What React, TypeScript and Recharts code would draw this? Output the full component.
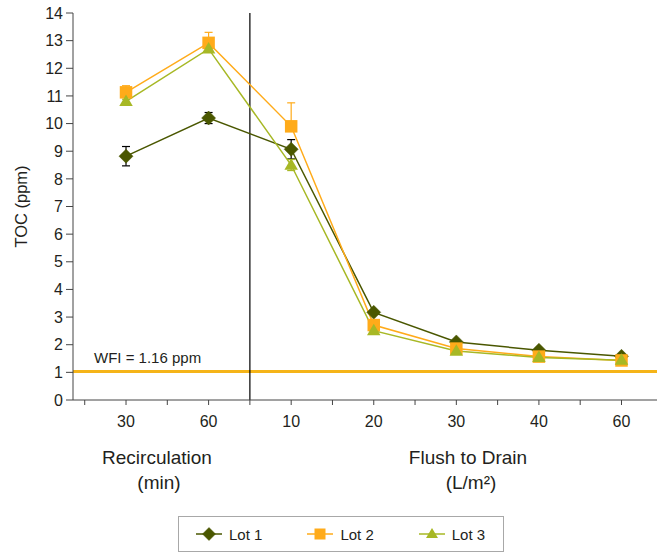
import React from 'react';
import { LineChart, Line, XAxis, YAxis, ErrorBar, ReferenceLine, Legend } from 'recharts';

const categories = ['30', '60', '10', '20', '30', '40', '60'];
const lot1 = [8.82, 10.2, 9.07, 3.17, 2.1, 1.8, 1.58];
const lot1Err = [0.35, 0.2, 0.35, 0.06, 0.05, 0.04, 0.04];
const lot2 = [11.13, 12.92, 9.9, 2.71, 1.86, 1.57, 1.43];
const lot2ErrUp = [0.24, 0.38, 0.85, 0.06, 0.05, 0.04, 0.04];
const lot3 = [10.8, 12.7, 8.5, 2.51, 1.77, 1.54, 1.44];
const lot3Err = [0.08, 0.08, 0.2, 0.05, 0.04, 0.04, 0.04];
const yTicks = [0, 1, 2, 3, 4, 5, 6, 7, 8, 9, 10, 11, 12, 13, 14];
const xTicks = [-0.5, 0, 0.5, 1, 1.5, 2, 2.5, 3, 3.5, 4, 4.5, 5, 5.5, 6];
const wfiLabel = 'WFI = 1.16 ppm';
const wfiLine = 1.03;
const sectionSplit = 1.5;
const seriesNames = ['Lot 1', 'Lot 2', 'Lot 3'];
const groupLabels = [['Recirculation', '(min)'], ['Flush to Drain', '(L/m²)']];
const yLabel = 'TOC (ppm)';

const C1 = '#4a5700';
const C2 = '#ffab1a';
const C3 = '#a7b825';
const WFI = '#f5b418';
const FONT = '"Liberation Sans", Arial, sans-serif';
const TXT = '#231f20';

const data = categories.map((c, i) => ({
  idx: i,
  cat: c,
  lot1: lot1[i],
  lot1Err: lot1Err[i],
  lot2: lot2[i],
  lot2Err: [0, lot2ErrUp[i]],
  lot3: lot3[i],
  lot3Err: lot3Err[i],
}));

const Diamond = ({ cx, cy, color, r = 7 }: any) => (
  <path d={`M${cx},${cy - r}L${cx + r},${cy}L${cx},${cy + r}L${cx - r},${cy}Z`} fill={color} stroke={color} strokeWidth={0.5} />
);
const Square = ({ cx, cy, color, s = 12.5 }: any) => (
  <rect x={cx - s / 2} y={cy - s / 2} width={s} height={s} fill={color} />
);
const Triangle = ({ cx, cy, color, w = 13.5, h = 11.5 }: any) => (
  <path d={`M${cx},${cy - h * 0.6}L${cx + w / 2},${cy + h * 0.4}L${cx - w / 2},${cy + h * 0.4}Z`} fill={color} />
);

const shapes: Record<string, any> = { lot1: Diamond, lot2: Square, lot3: Triangle };
const colors: Record<string, string> = { lot1: C1, lot2: C2, lot3: C3 };

const XTick = (props: any) => {
  const { x, y, payload } = props;
  const v = payload.value;
  const isInt = Number.isInteger(v);
  return (
    <g>
      <line x1={x} y1={y} x2={x} y2={y + 5} stroke="#444" strokeWidth={1} />
      {isInt && (
        <text x={x} y={y + 27} textAnchor="middle" fontSize={16} fontFamily={FONT} fill={TXT}>
          {categories[v]}
        </text>
      )}
    </g>
  );
};

const LegendContent = (props: any) => {
  const payload = props.payload || [];
  return (
    <div
      style={{
        boxSizing: 'border-box',
        width: 326,
        height: 36,
        border: '1.5px solid #a8a8a8',
        display: 'flex',
        alignItems: 'center',
        paddingLeft: 17,
        fontFamily: FONT,
        fontSize: 15,
        color: TXT,
        background: '#fff',
        whiteSpace: 'nowrap',
      }}
    >
      {payload.map((p: any) => {
        const Shape = shapes[p.dataKey];
        return (
          <div key={p.dataKey} style={{ display: 'flex', alignItems: 'center', marginRight: 45, flexShrink: 0 }}>
            <svg width={26} height={16} style={{ display: 'block', flexShrink: 0 }}>
              <line x1={0} y1={8} x2={26} y2={8} stroke={colors[p.dataKey]} strokeWidth={1.5} />
              <Shape cx={13} cy={8} color={colors[p.dataKey]} r={6.5} s={11} w={12} h={10} />
            </svg>
            <span style={{ marginLeft: 7, whiteSpace: 'nowrap' }}>{p.value}</span>
          </div>
        );
      })}
    </div>
  );
};

const makeDot = (key: string) => (props: any) => {
  const Shape = shapes[key];
  return <Shape key={`${key}-${props.index}`} cx={props.cx} cy={props.cy} color={colors[key]} />;
};

export default function App() {
  return (
    <div style={{ position: 'absolute', left: 0, top: 0, width: 657, height: 552, background: '#fff' }}>
      <LineChart
        width={657}
        height={552}
        data={data}
        margin={{ top: 13, right: 0, left: 0, bottom: 0 }}
        style={{ fontFamily: FONT }}
      >
        <XAxis
          type="number"
          dataKey="idx"
          domain={[-0.642, 6.43]}
          allowDataOverflow
          ticks={xTicks}
          interval={0}
          tickSize={0}
          tickMargin={0}
          tickLine={false}
          tick={<XTick />}
          height={152}
          axisLine={{ stroke: '#444', strokeWidth: 1 }}
        />
        <YAxis
          type="number"
          domain={[0, 14]}
          ticks={yTicks}
          interval={0}
          width={73}
          tickSize={7}
          tickMargin={3}
          tick={{ fontSize: 16, fill: TXT, fontFamily: FONT }}
          tickLine={{ stroke: '#444' }}
          axisLine={{ stroke: '#444', strokeWidth: 1 }}
        />
        <ReferenceLine
          y={wfiLine}
          stroke={WFI}
          strokeWidth={3}
          ifOverflow="extendDomain"
          label={(p: any) => (
            <text x={p.viewBox.x + 21} y={p.viewBox.y - 9} fontSize={15} fontFamily={FONT} fill={TXT}>
              {wfiLabel}
            </text>
          )}
        />
        <ReferenceLine x={sectionSplit} stroke="#000" strokeWidth={1.2} />
        <Line
          dataKey="lot1"
          name={seriesNames[0]}
          type="linear"
          stroke={C1}
          strokeWidth={1.5}
          dot={makeDot('lot1')}
          activeDot={false}
          isAnimationActive={false}
        >
          <ErrorBar dataKey="lot1Err" direction="y" width={4} stroke="#000" strokeWidth={1.2} isAnimationActive={false} />
        </Line>
        <Line
          dataKey="lot2"
          name={seriesNames[1]}
          type="linear"
          stroke={C2}
          strokeWidth={1.5}
          dot={makeDot('lot2')}
          activeDot={false}
          isAnimationActive={false}
        >
          <ErrorBar dataKey="lot2Err" direction="y" width={4} stroke={C2} strokeWidth={1.2} isAnimationActive={false} />
        </Line>
        <Line
          dataKey="lot3"
          name={seriesNames[2]}
          type="linear"
          stroke={C3}
          strokeWidth={1.5}
          dot={makeDot('lot3')}
          activeDot={false}
          isAnimationActive={false}
        >
          <ErrorBar dataKey="lot3Err" direction="y" width={4} stroke={C3} strokeWidth={1.2} isAnimationActive={false} />
        </Line>
        <Legend
          layout="horizontal"
          verticalAlign="middle"
          align="center"
          content={<LegendContent />}
          wrapperStyle={{ position: 'absolute', left: 178, top: 516, width: 326, height: 36 }}
        />
        <text
          x={27}
          y={206.5}
          transform="rotate(-90, 27, 206.5)"
          textAnchor="middle"
          fontSize={16.5}
          fontFamily={FONT}
          fill={TXT}
        >
          {yLabel}
        </text>
        <text x={157} y={464} textAnchor="middle" fontSize={19} fontFamily={FONT} fill={TXT}>
          {groupLabels[0][0]}
        </text>
        <text x={159} y={489} textAnchor="middle" fontSize={19} fontFamily={FONT} fill={TXT}>
          {groupLabels[0][1]}
        </text>
        <text x={468} y={464} textAnchor="middle" fontSize={19} fontFamily={FONT} fill={TXT}>
          {groupLabels[1][0]}
        </text>
        <text x={471} y={489} textAnchor="middle" fontSize={19} fontFamily={FONT} fill={TXT}>
          {groupLabels[1][1]}
        </text>
      </LineChart>
    </div>
  );
}
